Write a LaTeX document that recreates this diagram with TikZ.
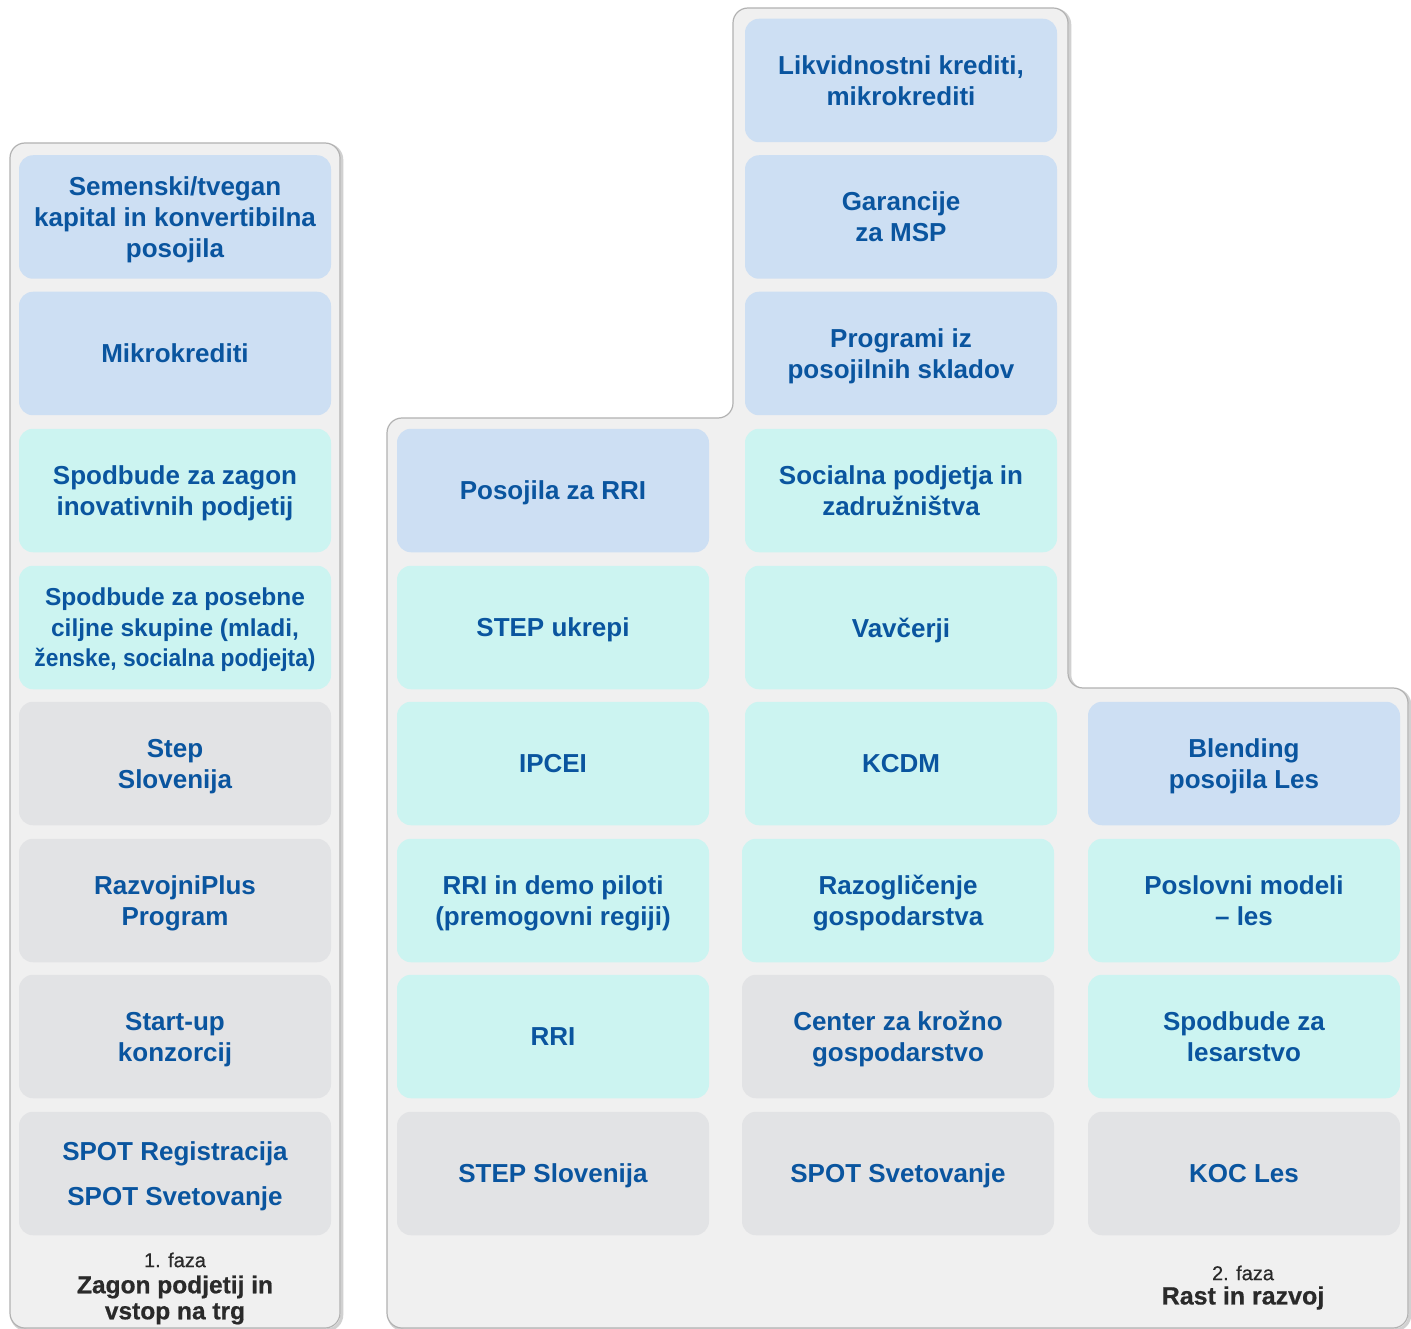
\documentclass[tikz,border=0pt]{standalone}
\usepackage{fontspec}
\setmainfont{Liberation Sans}
\newfontfamily\footfont{Liberation Sans Bold}[FakeBold=0.6]
\newfontfamily\footreg{Liberation Sans}[FakeBold=0.5]
\usepackage{graphicx}
\definecolor{txt}{HTML}{0A559F}
\definecolor{bluebox}{HTML}{CDDFF3}
\definecolor{cyanbox}{HTML}{CCF4F1}
\definecolor{graybox}{HTML}{E2E3E5}
\definecolor{panel}{HTML}{F0F0F0}
\definecolor{foot}{HTML}{2A2A2A}
\begin{document}
\begin{tikzpicture}[x=1pt,y=-1pt,
  box/.style={rounded corners=14pt, minimum width=312pt, minimum height=123.5pt,
    align=center, text=txt, inner sep=0pt, text depth=-2pt,
    font=\bfseries\fontsize{26}{31}\selectfont},
  bb/.style={box, fill=bluebox},
  cb/.style={box, fill=cyanbox},
  gb/.style={box, fill=graybox},
  panelshadow/.style={draw=black!18, line width=3pt, rounded corners=15pt},
  panelbody/.style={fill=panel, draw=black!30, line width=1.2pt, rounded corners=15pt},
  footsmall/.style={text=foot, font=\footreg\fontsize{20}{22}\selectfont, inner sep=0pt},
  footbig/.style={text=foot, align=center, inner sep=0pt, font=\footfont\fontsize{24.5}{26}\selectfont}
]
\useasboundingbox (0,0) rectangle (1411,1329);
\fill[white] (0,0) rectangle (1411,1329);
% panels
\begin{scope}
\clip (0,0) rectangle (1411,1329);
\draw[panelshadow, shift={(1.8,1.8)}] (10,1328) -- (10,143) -- (340,143) -- (340,1328) -- cycle;
\draw[panelbody] (10,1328) -- (10,143) -- (340,143) -- (340,1328) -- cycle;
\draw[panelshadow, shift={(1.8,1.8)}] (387,1328) -- (387,418) -- (733,418) -- (733,8) -- (1068,8) -- (1068,688) -- (1408,688) -- (1408,1328) -- cycle;
\draw[panelbody] (387,1328) -- (387,418) -- (733,418) -- (733,8) -- (1068,8) -- (1068,688) -- (1408,688) -- (1408,1328) -- cycle;
\end{scope}
% column 1
\node[bb] (a2) at (175,217) {Semenski/tvegan\\kapital in konvertibilna\\posojila};
\node[bb] (a3) at (175,353.5) {Mikrokrediti};
\node[cb] (a4) at (175,490.5) {Spodbude za zagon\\inovativnih podjetij};
\node[cb, font=\bfseries\fontsize{24.5}{30.5}\selectfont] (a5) at (175,627.5) {Spodbude za posebne\\ciljne skupine (mladi,\\\scalebox{0.93}[1]{ženske, socialna podjejta)}};
\node[gb] (a6) at (175,763.5) {Step\\Slovenija};
\node[gb] (a7) at (175,900.5) {RazvojniPlus\\Program};
\node[gb] (a8) at (175,1036.5) {Start-up\\konzorcij};
\node[gb] (a9) at (175,1173.5) {SPOT Registracija\\[14pt]SPOT Svetovanje};
% column 2
\node[bb] (b4) at (553,490.5) {Posojila za RRI};
\node[cb] (b5) at (553,627.5) {STEP ukrepi};
\node[cb] (b6) at (553,763.5) {IPCEI};
\node[cb] (b7) at (553,900.5) {RRI in demo piloti\\(premogovni regiji)};
\node[cb] (b8) at (553,1036.5) {RRI};
\node[gb] (b9) at (553,1173.5) {STEP Slovenija};
% column 3
\node[bb] (c1) at (901,80.5) {Likvidnostni krediti,\\mikrokrediti};
\node[bb] (c2) at (901,217) {Garancije\\za MSP};
\node[bb] (c3) at (901,353.5) {Programi iz\\posojilnih skladov};
\node[cb] (c4) at (901,490.5) {Socialna podjetja in\\zadružništva};
\node[cb] (c5) at (901,627.5) {Vavčerji};
\node[cb] (c6) at (901,763.5) {KCDM};
\node[cb] (c7) at (898,900.5) {Razogličenje\\gospodarstva};
\node[gb] (c8) at (898,1036.5) {Center za krožno\\gospodarstvo};
\node[gb] (c9) at (898,1173.5) {SPOT Svetovanje};
% column 4
\node[bb] (d6) at (1244,763.5) {Blending\\posojila Les};
\node[cb] (d7) at (1244,900.5) {Poslovni modeli\\– les};
\node[cb] (d8) at (1244,1036.5) {Spodbude za\\lesarstvo};
\node[gb] (d9) at (1244,1173.5) {KOC Les};
% footers
\node[footsmall] (f1a) at (175,1260) {1. faza};
\node[footbig] (f1b) at (175,1300) {Zagon podjetij in\\vstop na trg};
\node[footsmall] (f2a) at (1243,1273) {2. faza};
\node[footbig, font=\footfont\fontsize{25}{26}\selectfont] (f2b) at (1243,1298) {Rast in razvoj};
\end{tikzpicture}
\end{document}
